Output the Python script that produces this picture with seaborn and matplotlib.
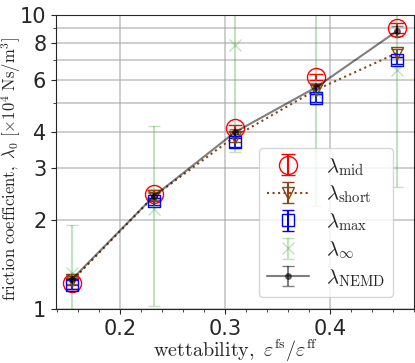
import numpy as np
import seaborn as sns
import matplotlib
matplotlib.use("Agg")
import matplotlib.pyplot as plt
from matplotlib.ticker import FixedLocator, FixedFormatter, NullFormatter, MultipleLocator

# wettability (x) and friction coefficient estimates (x10^4 Ns/m^3)
wett = [0.1546, 0.2319, 0.3092, 0.3866, 0.4639]
lam_mid = [1.22, 2.46, 4.12, 6.12, 8.98]
lam_mid_err = [0.05, 0.08, 0.10, 0.15, 0.35]
lam_short = [1.25, 2.41, 3.85, 5.55, 7.40]
lam_short_err = [0.04, 0.08, 0.15, 0.20, 0.25]
lam_max = [1.21, 2.32, 3.68, 5.20, 7.00]
lam_max_err = [0.04, 0.06, 0.12, 0.15, 0.20]
lam_inf = [1.32, 2.18, 7.85, 5.40, 6.50]
lam_inf_lo = [0.80, 1.02, 3.42, 2.23, 2.60]
lam_inf_hi = [1.93, 4.17, 12.3, 14.0, 10.4]
lam_nemd = [1.265, 2.41, 3.98, 5.66, 8.80]
lam_nemd_err = [0.05, 0.07, 0.12, 0.20, 0.35]

ytick_vals = [1, 2, 3, 4, 6, 8, 10]
ytick_minor = [5, 7, 9]

sns.set_style("ticks")
plt.rcParams["mathtext.fontset"] = "cm"
plt.rcParams["font.family"] = ["DejaVu Sans"]

fig = plt.figure(figsize=(4.15, 3.63), dpi=100)
ax = fig.add_axes([0.135, 0.149, 0.863, 0.811])

ax.errorbar(wett, lam_mid, yerr=lam_mid_err, color="red", marker="o", ms=13,
            mfc="none", ls="none", capsize=5, label=r"$\lambda_{\rm mid}$")
ax.errorbar(wett, lam_short, yerr=lam_short_err, color="saddlebrown", marker="v", ms=9,
            mfc="none", ls=":", lw=1.5, capsize=4, label=r"$\lambda_{\rm short}$")
ax.errorbar(wett, lam_max, yerr=lam_max_err, color="blue", marker="s", ms=9,
            mfc="none", ls="none", capsize=4, label=r"$\lambda_{\rm max}$")
inf_err = [np.array(lam_inf) - np.array(lam_inf_lo), np.array(lam_inf_hi) - np.array(lam_inf)]
ax.errorbar(wett, lam_inf, yerr=inf_err, color="tab:green", marker="x", ms=9,
            ls="none", capsize=4, alpha=0.3, label=r"$\lambda_{\infty}$")
ax.errorbar(wett, lam_nemd, yerr=lam_nemd_err, color="k", marker="o", ms=4,
            ls="-", lw=1.5, capsize=4, alpha=0.5, label=r"$\lambda_{\rm NEMD}$")

ax.set_yscale("log")
ax.set_ylim(1, 10)
ax.set_xlim(0.139, 0.48)
ax.yaxis.set_major_locator(FixedLocator(ytick_vals))
ax.yaxis.set_major_formatter(FixedFormatter([str(v) for v in ytick_vals]))
ax.yaxis.set_minor_locator(FixedLocator(ytick_minor))
ax.yaxis.set_minor_formatter(NullFormatter())
ax.xaxis.set_major_locator(MultipleLocator(0.1))
ax.xaxis.set_minor_locator(MultipleLocator(0.02))
ax.tick_params(labelsize=15)
ax.grid(True, which="major", color="#a8a8a8", lw=1.2, alpha=0.65)
ax.grid(True, which="minor", axis="y", color="#a8a8a8", lw=1.2, alpha=0.65)

ax.set_xlabel(r"$\mathrm{wettability,}\ \varepsilon^{\rm fs}/\varepsilon^{\rm ff}$", fontsize=14.5, labelpad=-1)
ax.set_ylabel(r"$\mathrm{friction\ coefficient,}\ \lambda_0\ [\times 10^4\ \mathrm{Ns/m^3}]$",
              fontsize=12)
ax.yaxis.set_label_coords(-0.092, 0.475)

ax.legend(loc="lower right", bbox_to_anchor=(0.94, 0.04), borderaxespad=0, fontsize=15,
          labelspacing=0.3, handlelength=2.0, framealpha=0.8)

fig.savefig("out.png", dpi=100)
